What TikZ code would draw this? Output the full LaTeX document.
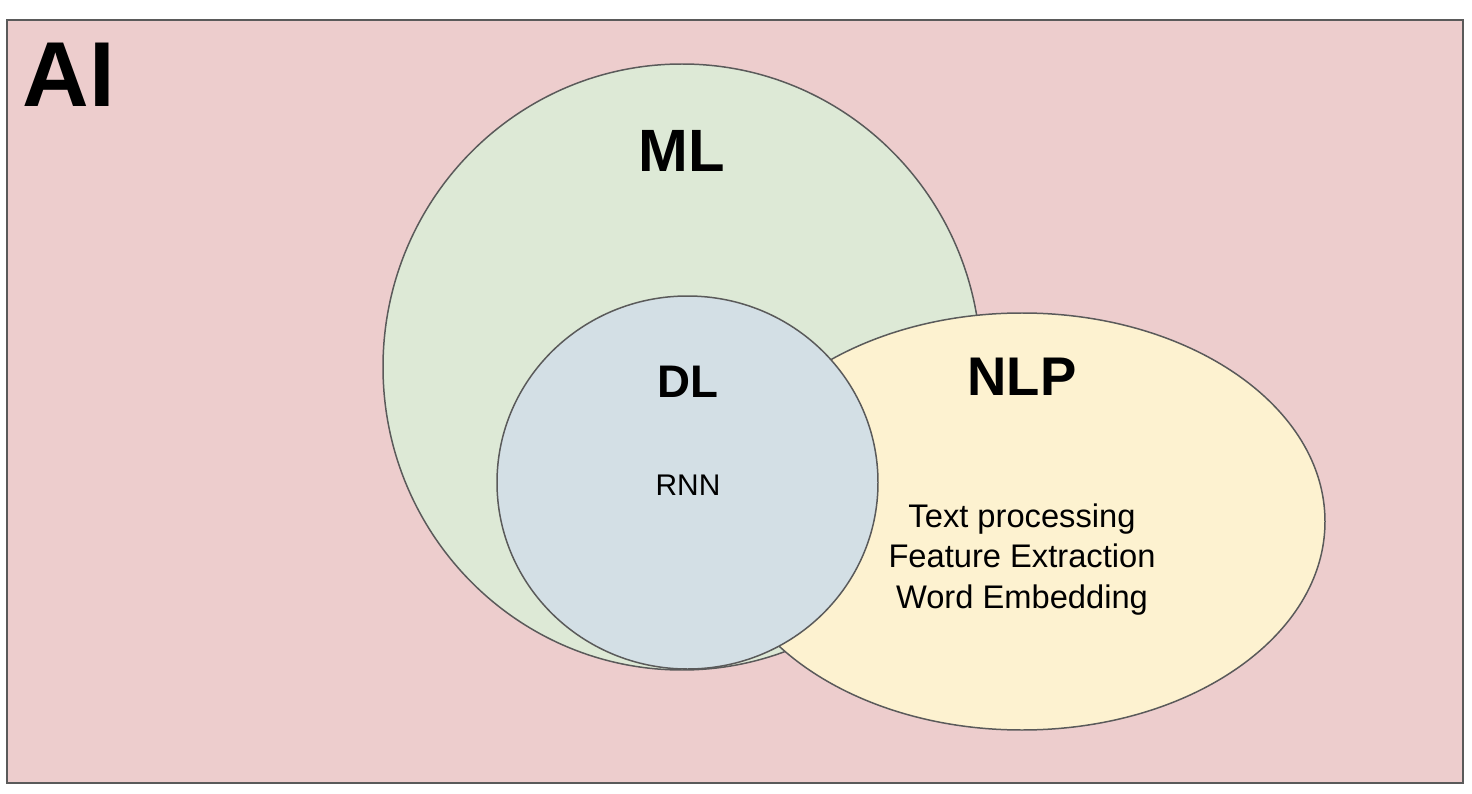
\documentclass[tikz,border=0pt]{standalone}
\usepackage{fontspec}
\setmainfont{Liberation Sans}
\usepackage{tikz}
\usetikzlibrary{positioning}

\definecolor{aipink}{HTML}{EDCDCD}
\definecolor{mlgreen}{HTML}{DDE9D6}
\definecolor{dlblue}{HTML}{D3DFE5}
\definecolor{nlpyellow}{HTML}{FDF2D0}
\definecolor{edgegray}{HTML}{5A5A5A}

\tikzset{
  setline/.style={draw=edgegray, line width=0.85pt},
  biglabel/.style={anchor=base, font=\bfseries\fontsize{#1}{#1}\selectfont},
  smalllabel/.style={anchor=base, font=\fontsize{#1}{#1}\selectfont}
}

\begin{document}
\begin{tikzpicture}[x=0.02cm, y=-0.02cm]
  \useasboundingbox (0,0) rectangle (1472,794);
  % sets, back to front
  \draw [setline, line width=1.1pt, fill=aipink] (7,20) rectangle (1463,783);
  \draw [setline, fill=mlgreen] (682,367) ellipse [x radius=299, y radius=303];
  \draw [setline, fill=nlpyellow] (1022,521.5) ellipse [x radius=303, y radius=208.5];
  \draw [setline, fill=dlblue] (687.5,482.5) ellipse [x radius=190.5, y radius=186.5];
  % labels
  \node (ai) at (69,107) [biglabel=52.5pt, inner sep=0pt] {AI};
  \node (ml) at (682,172) [biglabel=34pt, inner sep=0pt] {ML};
  \node (dl) at (688,397) [biglabel=26pt, inner sep=0pt] {DL};
  \node (nlp) at (1022,395) [biglabel=31pt, inner sep=0pt] {NLP};
  \node (rnn) at (688,495) [smalllabel=17pt, inner sep=0pt] {RNN};
  \node (text) at (1022,527) [smalllabel=18.6pt, inner sep=0pt] {Text processing};
  \node (feat) at (1022,567) [smalllabel=18.6pt, inner sep=0pt] {Feature Extraction};
  \node (word) at (1022,608) [smalllabel=18.6pt, inner sep=0pt] {Word Embedding};
\end{tikzpicture}
\end{document}
